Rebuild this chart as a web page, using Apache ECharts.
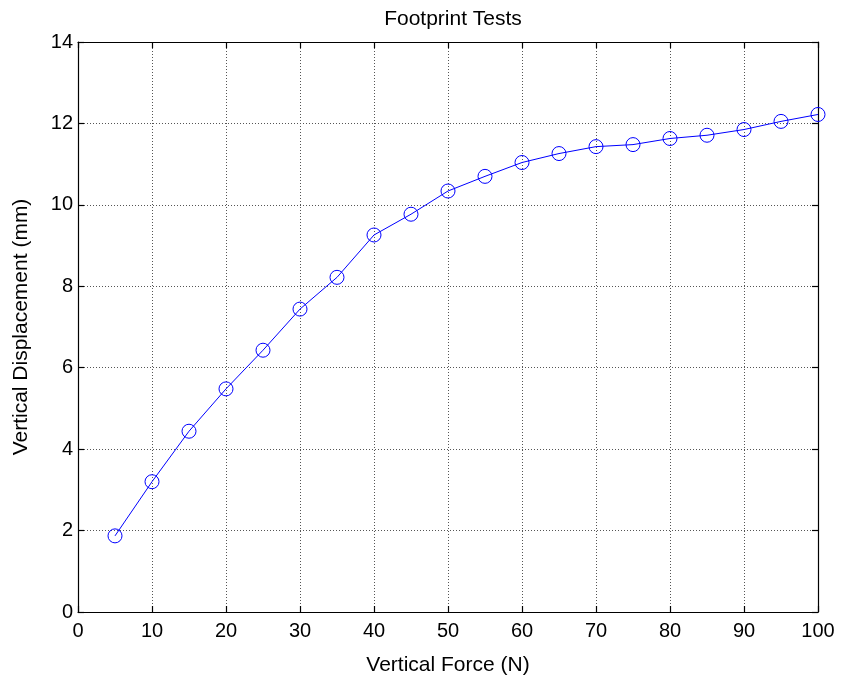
<!DOCTYPE html>
<html>
<head>
<meta charset="utf-8">
<script src="https://cdn.jsdelivr.net/npm/echarts@6/dist/echarts.min.js"></script>
<style>html,body{margin:0;padding:0;background:#fff;}#c{width:842px;height:681px;}</style>
</head>
<body>
<div id="c"></div>
<script>
const forces = [5,10,15,20,25,30,35,40,45,50,55,60,65,70,75,80,85,90,95,100];
const displacement = [1.87,3.20,4.44,5.48,6.43,7.44,8.22,9.26,9.77,10.34,10.70,11.04,11.26,11.43,11.48,11.63,11.71,11.85,12.05,12.22];
const xTicks = {min:0, max:100, interval:10};
const yTicks = {min:0, max:14, interval:2};

const font = 'Liberation Sans, Arial, sans-serif';
const chart = echarts.init(document.getElementById('c'));
const splitLine = {show:true, lineStyle:{color:'#555', type:[1,2], width:1}};
const axisLine = {show:true, onZero:false, lineStyle:{color:'#000', width:1.2}};
const axisTick = {show:true, inside:true, length:6, lineStyle:{color:'#000', width:1.2}};
chart.setOption({
  animation:false,
  backgroundColor:'#fff',
  title:{text:'Footprint Tests', left:448, top:4, textAlign:'center',
    textStyle:{fontFamily:font, fontSize:21, fontWeight:'normal', color:'#000'}},
  grid:{left:78, right:24, top:42, bottom:66, containLabel:false},
  xAxis:[
    {type:'value', position:'bottom', min:xTicks.min, max:xTicks.max, interval:xTicks.interval,
     name:'Vertical Force (N)', nameLocation:'middle', nameGap:43,
     nameTextStyle:{fontFamily:font, fontSize:21, color:'#000'},
     axisLine, axisTick, splitLine,
     axisLabel:{fontFamily:font, fontSize:20, color:'#000', margin:9}},
    {type:'value', position:'top', min:xTicks.min, max:xTicks.max, interval:xTicks.interval,
     axisLine, axisTick, splitLine:{show:false}, axisLabel:{show:false}}
  ],
  yAxis:[
    {type:'value', position:'left', min:yTicks.min, max:yTicks.max, interval:yTicks.interval,
     name:'Vertical Displacement (mm)', nameLocation:'middle', nameGap:46,
     nameTextStyle:{fontFamily:font, fontSize:21, color:'#000'},
     axisLine, axisTick, splitLine,
     axisLabel:{fontFamily:font, fontSize:20, color:'#000', margin:5}},
    {type:'value', position:'right', min:yTicks.min, max:yTicks.max, interval:yTicks.interval,
     axisLine, axisTick, splitLine:{show:false}, axisLabel:{show:false}}
  ],
  series:[{
    type:'line',
    data:forces.map((f,i)=>[f, displacement[i]]),
    symbol:'circle', symbolSize:14,
    lineStyle:{color:'#0000ff', width:1},
    itemStyle:{color:'rgba(0,0,0,0)', borderColor:'#0000ff', borderWidth:1},
    z:5
  }]
});
</script>
</body>
</html>
